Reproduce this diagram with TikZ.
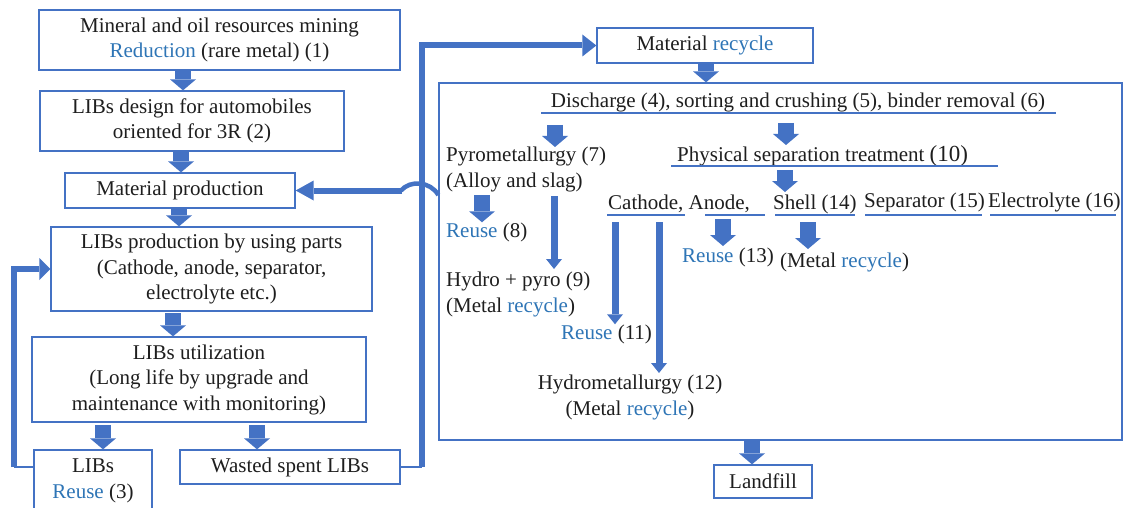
\documentclass[tikz,border=0pt]{standalone}
\usepackage{fontspec}
\setmainfont{Liberation Serif}
\usetikzlibrary{arrows.meta}
\definecolor{ablue}{RGB}{68,114,196}
\definecolor{tblue}{RGB}{46,117,182}
\definecolor{txt}{RGB}{30,30,30}
\newcommand{\bl}[1]{\textcolor{tblue}{#1}}
\begin{document}
\begin{tikzpicture}[x=1pt,y=-1pt,
  every node/.style={font=\fontsize{21}{25.5}\selectfont, text=txt, inner sep=0pt},
  box/.style={draw=ablue, line width=1.3pt, align=center},
  lbl/.style={anchor=west, align=left},
  fat/.style={ablue, line width=16pt, -{Triangle[length=11pt,width=26pt,line width=0pt]}},
  lng/.style={ablue, line width=7pt, -{Triangle[length=10pt,width=16pt,line width=0pt]}},
  fb/.style={ablue, line width=6pt},
  fbthin/.style={ablue, line width=2pt},
  uline/.style={ablue, line width=1.3pt}]
\useasboundingbox (0,0) rectangle (1124,508);
\fill[white] (0,0) rectangle (1124,508);

% left column
\node[box, minimum width=361, minimum height=60] (b1) at (219.5,40) {Mineral and oil resources mining\\\bl{Reduction} (rare metal) (1)};
\node[box, minimum width=304, minimum height=60] (b2) at (192,121) {LIBs design for automobiles\\oriented for 3R (2)};
\node[box, minimum width=230, minimum height=35] (b3) at (180,190.5) {Material production};
\node[box, minimum width=321, minimum height=84] (b4) at (211.5,269) {LIBs production by using parts\\(Cathode, anode, separator,\\electrolyte etc.)};
\node[box, minimum width=334, minimum height=85] (b5) at (199,379.5) {LIBs utilization\\(Long life by upgrade and\\maintenance with monitoring)};
\node[box, minimum width=118, minimum height=62] (b6) at (93,481) {LIBs\\\bl{Reuse} (3)};
\node[box, minimum width=220, minimum height=34] (b7) at (290,467) {Wasted spent LIBs};

% right part
\node[box, minimum width=216, minimum height=35] (mr) at (705,45.5) {Material \bl{recycle}};
\node[box, minimum width=683, minimum height=357] (big) at (780.5,261.5) {};
\node[box, minimum width=98, minimum height=33] (lf) at (763,481.5) {Landfill};

% labels inside the big box
\node (disc) at (798,102) {Discharge (4), sorting and crushing (5), binder removal (6)};
\node[lbl] (pyro) at (446,169.5) {Pyrometallurgy (7)\\(Alloy and slag)};
\node[lbl] (phys) at (677,156) {Physical separation treatment {\fontsize{23}{25.5}\selectfont(10)}};
\node[lbl] (r8) at (446,232) {\bl{Reuse} (8)};
\node[lbl] (hp9) at (446,294.5) {Hydro + pyro (9)\\(Metal \bl{recycle})};
\node[lbl] (cath) at (608,204) {Cathode, Anode,};
\node[lbl] (shell) at (773,204) {Shell (14)};
\node[lbl] (sep) at (864,202) {Separator (15)};
\node[lbl] (elec) at (988,202) {Electrolyte (16)};
\node[lbl] (r11) at (561,334) {\bl{Reuse} (11)};
\node[align=center] (hy12) at (630,397.5) {Hydrometallurgy (12)\\(Metal \bl{recycle})};
\node[lbl] (r13) at (682,257) {\bl{Reuse} (13)};
\node[lbl] (m14) at (780,262) {(Metal \bl{recycle})};

% underlines
\draw[uline] (541,113) -- (1056,113);
\draw[uline] (671,166) -- (998,166);
\draw[uline] (607,215) -- (685,215);
\draw[uline] (705,215) -- (765,215);
\draw[uline] (775,215) -- (855,215);
\draw[uline] (865,215) -- (982,215);
\draw[uline] (990,215) -- (1116,215);

% fat arrows, left column
\draw[fat] (183,0 |- b1.south) -- (183,0 |- b2.north);
\draw[fat] (181,0 |- b2.south) -- (181,0 |- b3.north);
\draw[fat] (179,0 |- b3.south) -- (179,0 |- b4.north);
\draw[fat] (173,313) -- (173,0 |- b5.north);
\draw[fat] (103,425) -- (103,0 |- b6.north);
\draw[fat] (257,425) -- (257,0 |- b7.north);
% right part
\draw[fat] (706,0 |- mr.south) -- (706,0 |- big.north);
\draw[fat] (752,0 |- big.south) -- (752,0 |- lf.north);
\draw[fat] (555,125) -- (555,0 |- pyro.north);
\draw[fat] (786,123) -- (786,145);
\draw[fat] (785,170) -- (785,192);
\draw[fat] (482,195) -- (482,0 |- r8.north);
\draw[lng] (554,196) -- (554,269);
\draw[lng] (615,222) -- (615,0 |- r11.north);
\draw[lng] (659,222) -- (659,373);
\draw[fat] (723,219) -- (723,246);
\draw[fat] (808,222) -- (808,249);

% feedback loops
\draw[fbthin] (b6.west |- 0,467) -- (14,467);
\draw[fb, -{Triangle[length=11pt,width=22pt,line width=0pt]}] (14,467) -- (14,269) -- (b4.west |- 0,269);
\draw[fbthin] (b7.east) -- (422,467);
\draw[fb, -{Triangle[length=14pt,width=22pt,line width=0pt]}] (422,467) -- (422,45.5) -- (mr.west);
\draw[ablue, line width=4.5pt] (big.west |- 0,195) .. controls (430,181) and (410,180) .. (401,190.5);
\draw[fb, -{Triangle[length=18pt,width=20pt,line width=0pt]}] (402,190.5) -- (b3.east);
\end{tikzpicture}
\end{document}
